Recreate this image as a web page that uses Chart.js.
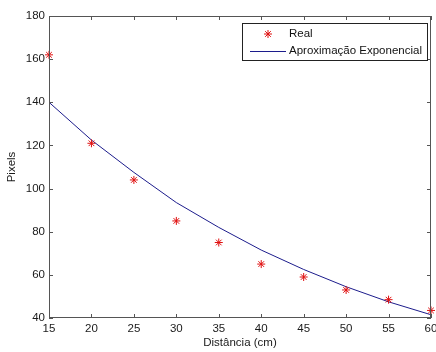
<!DOCTYPE html>
<html>
<head>
<meta charset="utf-8">
<script src="https://cdn.jsdelivr.net/npm/chart.js@4.4.1/dist/chart.umd.min.js"></script>
<style>
  html, body { margin: 0; padding: 0; background: #fff; }
  #wrap { width: 436px; height: 352px; }
</style>
</head>
<body>
<div id="wrap"><canvas id="c" width="436" height="352"></canvas></div>
<script>
// Distance (cm) at which each reading was taken
const distances = [15, 20, 25, 30, 35, 40, 45, 50, 55, 60];
// Measured object size in pixels
const realPixels = [162, 121, 104, 85, 75, 65, 59, 53, 48.5, 43.5];
// Exponential fit evaluated at the same distances
const fitPixels = [140, 122.5, 107.5, 93.5, 82, 71.5, 62.5, 54.5, 47.5, 41.5];
// Axis ranges and tick steps
const xTicks = [15, 20, 25, 30, 35, 40, 45, 50, 55, 60];
const yTicks = [40, 60, 80, 100, 120, 140, 160, 180];
const seriesLabels = ['Real', 'Aproximação Exponencial'];

const FONT = 'Liberation Sans, Arial, Helvetica, sans-serif';
const FSIZE = 11.5;

// Box around the axes with inward-pointing ticks on all four sides
const boxPlugin = {
  id: 'boxTicks',
  afterDraw(chart) {
    const { ctx, chartArea: a, scales: { x, y } } = chart;
    ctx.save();
    ctx.strokeStyle = '#555';
    ctx.lineWidth = 1;
    ctx.strokeRect(a.left + 0.5, a.top + 0.5, a.right - a.left - 1, a.bottom - a.top - 1);
    ctx.beginPath();
    const tl = 4;
    xTicks.forEach(v => {
      const px = Math.round(x.getPixelForValue(v)) + 0.5;
      ctx.moveTo(px, a.bottom); ctx.lineTo(px, a.bottom - tl);
      ctx.moveTo(px, a.top); ctx.lineTo(px, a.top + tl);
    });
    yTicks.forEach(v => {
      const py = Math.round(y.getPixelForValue(v)) + 0.5;
      ctx.moveTo(a.left, py); ctx.lineTo(a.left + tl, py);
      ctx.moveTo(a.right, py); ctx.lineTo(a.right - tl, py);
    });
    ctx.stroke();
    ctx.restore();
  }
};

// Legend box in the upper right corner of the axes
const legendPlugin = {
  id: 'boxLegend',
  afterDraw(chart) {
    const { ctx, chartArea: a } = chart;
    const ds = chart.data.datasets;
    const w = 186, h = 38;
    const left = a.right - 3 - w, top = a.top + 7;
    ctx.save();
    ctx.fillStyle = '#fff';
    ctx.fillRect(left, top, w, h);
    ctx.strokeStyle = '#222';
    ctx.lineWidth = 1;
    ctx.strokeRect(left + 0.5, top + 0.5, w - 1, h - 1);

    const textX = left + 47;
    const row1 = top + 11, row2 = top + 28;
    // marker sample
    const mx = left + 26;
    ctx.strokeStyle = ds[0].borderColor;
    ctx.lineWidth = 1;
    const r = 4;
    ctx.beginPath();
    for (let i = 0; i < 4; i++) {
      const ang = i * Math.PI / 4;
      ctx.moveTo(mx - r * Math.cos(ang), row1 - r * Math.sin(ang));
      ctx.lineTo(mx + r * Math.cos(ang), row1 + r * Math.sin(ang));
    }
    ctx.stroke();
    // line sample
    ctx.strokeStyle = ds[1].borderColor;
    ctx.beginPath();
    ctx.moveTo(left + 8, row2 + 0.5);
    ctx.lineTo(left + 44, row2 + 0.5);
    ctx.stroke();

    ctx.fillStyle = '#111';
    ctx.font = FSIZE + 'px ' + FONT;
    ctx.textBaseline = 'middle';
    ctx.fillText(ds[0].label, textX, row1);
    ctx.fillText(ds[1].label, textX, row2);
    ctx.restore();
  }
};

new Chart(document.getElementById('c'), {
  type: 'scatter',
  data: {
    datasets: [
      {
        label: seriesLabels[0],
        data: distances.map((d, i) => ({ x: d, y: realPixels[i] })),
        showLine: false,
        pointStyle: 'star',
        pointRadius: 4,
        pointBorderWidth: 1,
        borderColor: '#e01010',
        backgroundColor: '#e01010',
        clip: false,
        order: 1
      },
      {
        label: seriesLabels[1],
        data: distances.map((d, i) => ({ x: d, y: fitPixels[i] })),
        showLine: true,
        pointRadius: 0,
        borderWidth: 1,
        borderColor: '#1c1c8c',
        backgroundColor: '#1c1c8c',
        tension: 0,
        clip: false,
        order: 2
      }
    ]
  },
  options: {
    responsive: false,
    animation: false,
    events: [],
    layout: { padding: { left: 0, right: 4, top: 16, bottom: 0 } },
    plugins: { legend: { display: false }, tooltip: { enabled: false } },
    scales: {
      x: {
        type: 'linear',
        min: 15, max: 60,
        afterBuildTicks: s => { s.ticks = xTicks.map(v => ({ value: v })); },
        afterFit: s => { s.height = 34; s.paddingLeft = 0; s.paddingRight = 0; },
        grid: { display: false, drawTicks: false },
        border: { display: false },
        ticks: { padding: 4, color: '#1a1a1a', font: { family: FONT, size: FSIZE }, maxRotation: 0, autoSkip: false },
        title: { display: true, text: 'Distância (cm)', color: '#1a1a1a', font: { family: FONT, size: FSIZE }, padding: { top: 0, bottom: 2 } }
      },
      y: {
        type: 'linear',
        min: 40, max: 180,
        afterBuildTicks: s => { s.ticks = yTicks.map(v => ({ value: v })); },
        afterFit: s => { s.width = 49; s.paddingTop = 0; s.paddingBottom = 0; },
        grid: { display: false, drawTicks: false },
        border: { display: false },
        ticks: { padding: 4, color: '#1a1a1a', font: { family: FONT, size: FSIZE }, autoSkip: false },
        title: { display: true, text: 'Pixels', color: '#1a1a1a', font: { family: FONT, size: FSIZE }, padding: { top: 5, bottom: 0 } }
      }
    }
  },
  plugins: [boxPlugin, legendPlugin]
});
</script>
</body>
</html>
